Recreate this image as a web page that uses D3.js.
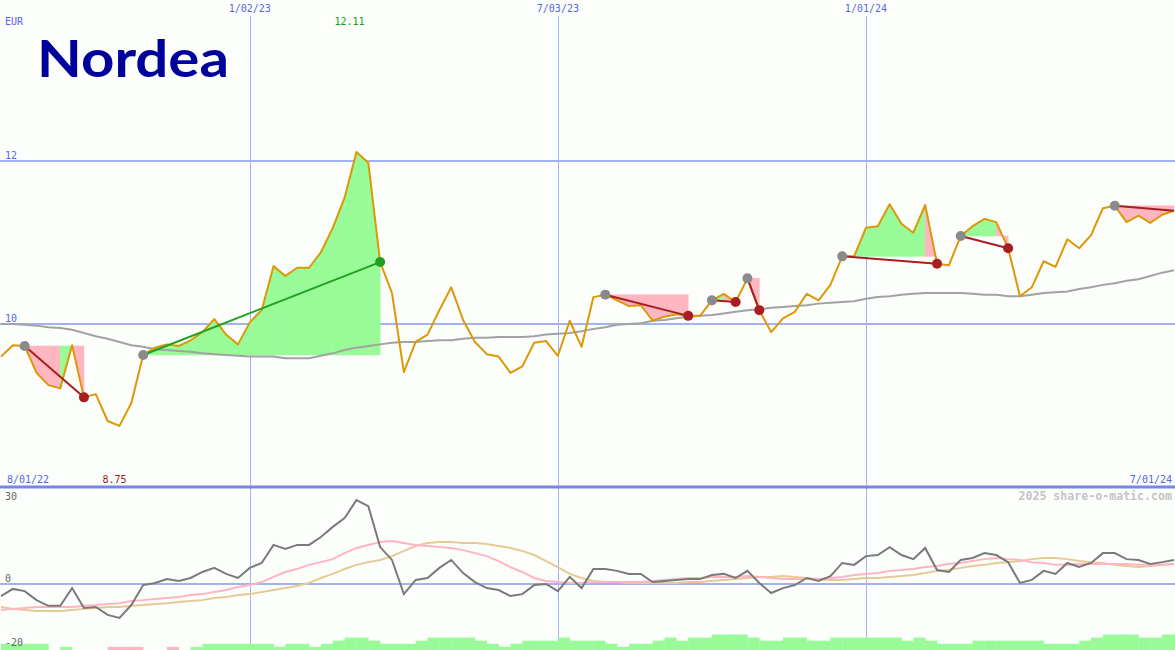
<!DOCTYPE html>
<html><head><meta charset="utf-8">
<script src="https://cdn.jsdelivr.net/npm/d3@7"></script>
<style>html,body{margin:0;padding:0;background:#fcfefc;overflow:hidden}</style>
</head><body><svg id="c" width="1175" height="650"></svg>
<script>
// ---- data (weekly points) ----
const price = [9.60,9.74,9.73,9.40,9.25,9.21,9.74,9.10,9.14,8.81,
8.75,9.03,9.62,9.71,9.75,9.73,9.80,9.90,10.06,9.87,
9.75,10.02,10.17,10.71,10.59,10.69,10.69,10.88,11.18,11.55,
12.11,11.98,10.76,10.38,9.41,9.78,9.87,10.17,10.45,10.05,
9.78,9.63,9.60,9.40,9.48,9.77,9.79,9.61,10.04,9.72,
10.33,10.36,10.29,10.22,10.23,10.04,10.09,10.12,10.10,10.10,
10.29,10.37,10.27,10.56,10.17,9.90,10.07,10.15,10.37,10.29,
10.48,10.83,10.83,11.18,11.20,11.47,11.23,11.12,11.46,10.74,
10.72,11.08,11.20,11.29,11.25,10.93,10.34,10.45,10.77,10.70,
11.04,10.93,11.09,11.42,11.45,11.25,11.33,11.24,11.34,11.39];

const movingAvg = [10.00,10.00,9.99,9.98,9.96,9.95,9.93,9.89,9.85,9.82,
9.78,9.74,9.72,9.69,9.68,9.67,9.66,9.64,9.63,9.62,
9.61,9.60,9.60,9.60,9.58,9.58,9.58,9.61,9.64,9.68,
9.71,9.73,9.75,9.77,9.78,9.78,9.79,9.80,9.80,9.82,
9.83,9.83,9.84,9.84,9.84,9.85,9.87,9.88,9.89,9.91,
9.94,9.96,9.99,10.00,10.01,10.04,10.05,10.07,10.09,10.10,
10.11,10.13,10.15,10.17,10.18,10.20,10.21,10.22,10.23,10.25,
10.26,10.27,10.28,10.31,10.33,10.34,10.36,10.37,10.38,10.38,
10.38,10.38,10.37,10.36,10.36,10.34,10.34,10.36,10.38,10.39,
10.40,10.43,10.45,10.48,10.50,10.53,10.55,10.59,10.63,10.66];

const oscillator = [-4.4,-1.8,-2.6,-5.9,-8.0,-8.0,-1.5,-8.8,-8.4,-11.3,
-12.4,-7.7,-0.4,0.4,1.8,1.1,2.2,4.4,5.9,3.7,
2.2,5.9,7.7,14.3,12.8,14.3,14.3,17.2,20.9,24.1,
30.7,28.5,13.5,8.8,-3.7,1.5,2.2,5.9,8.8,4.0,
0.7,-1.5,-2.2,-4.4,-3.7,-0.4,0.0,-2.6,2.6,-1.5,
5.5,5.5,4.8,3.7,3.7,0.7,1.1,1.5,1.8,1.8,
3.3,3.7,2.2,4.8,0.4,-3.3,-1.5,-0.4,2.2,1.1,
2.9,7.7,7.0,10.2,10.6,13.5,10.6,9.1,13.2,5.1,
4.4,8.8,9.5,11.3,10.6,8.0,0.4,1.5,4.8,3.7,
7.7,6.2,7.7,11.3,11.3,9.1,8.8,7.3,8.0,8.8];

const oscAvgPink = [-9.5,-9.1,-8.8,-8.4,-8.4,-8.4,-8.4,-8.0,-7.7,-7.3,
-7.0,-6.2,-5.9,-5.5,-5.1,-4.8,-4.0,-3.7,-2.9,-2.2,
-1.1,-0.4,0.7,2.6,4.4,5.5,7.0,8.0,9.1,11.3,
13.2,14.3,15.4,15.7,15.0,14.3,13.9,13.5,13.2,12.4,
11.3,10.2,8.4,6.2,4.4,2.2,1.1,0.7,0.4,0.4,
0.7,0.7,0.7,0.7,0.7,1.1,1.5,1.8,2.2,2.2,
2.6,2.6,2.6,2.9,2.6,2.2,1.8,1.8,1.8,1.8,
2.2,2.6,3.3,3.7,4.0,4.8,5.1,5.5,6.2,6.6,
7.3,7.7,8.4,9.1,9.5,9.1,8.8,8.0,7.7,7.0,
7.0,7.3,7.3,7.3,7.3,7.3,7.0,7.0,7.0,7.3];

const oscAvgTan = [-8.4,-9.1,-9.5,-9.9,-9.9,-9.9,-9.5,-9.1,-8.8,-8.4,
-8.4,-8.0,-7.7,-7.3,-7.0,-6.6,-6.2,-5.9,-5.1,-4.8,
-4.0,-3.7,-2.9,-2.2,-1.5,-0.7,0.4,2.2,3.7,5.5,
7.0,8.0,8.8,10.2,12.1,13.9,15.0,15.4,15.4,15.0,
15.0,14.6,13.9,13.2,12.1,10.6,8.4,6.2,3.7,2.2,
1.1,0.7,0.7,0.4,0.4,0.4,0.4,0.4,0.7,0.7,
1.1,1.5,1.8,2.2,2.6,2.6,2.9,2.6,2.2,1.8,
1.5,1.5,1.8,2.2,2.2,2.6,2.9,3.3,4.0,4.8,
5.1,5.9,6.6,7.0,7.7,8.0,8.4,9.1,9.5,9.5,
9.1,8.4,8.0,7.7,7.0,6.6,6.2,6.6,7.0,7.3];

const histLevels = [2,2,2,2,0,1,0,0,0,-1,
-1,-1,0,0,-1,0,1,2,2,2,
2,2,2,1,2,2,1,2,3,4,
4,3,2,2,2,3,4,4,4,4,
3,2,1,2,3,3,3,4,3,3,
3,2,1,2,2,3,4,3,4,4,
5,5,5,4,3,3,4,4,3,3,
4,4,4,4,4,4,3,4,3,2,
2,2,3,3,3,3,3,3,2,2,
2,3,4,5,5,5,4,4,5,5];

const signalStart = [2,12,51,60,63,71,81,94];
const signalEnd   = [7,32,58,62,64,79,85,99];

const dateGridIdx = [21,47,73];
const dateGridLabels = ["1/02/23","7/03/23","1/01/24"];
const priceTicks = [10,12];
const oscTicks = [30,0,-20];
const firstDate = "8/01/22", lastDate = "7/01/24";
const currency = "EUR";
const maxLabel = "12.11", minLabel = "8.75";

// ---- drawing ----
const W = 1175, H = 650;
const svg = d3.select('#c');
svg.append('rect').attr('width', W).attr('height', H).attr('fill', '#fcfefc');

const x = d3.scaleLinear().domain([0, price.length - 1]).range([1, 1174]);
const y = d3.scaleLinear().domain([10, 12]).range([324, 161]);
const y2 = d3.scaleLinear().domain([0, 30]).range([584, 502]);
const yb = d3.scaleLinear().domain([0, 5]).range([650, 634.5]);

const GRID = '#a3b3f2', BLUE_TXT = '#5566e6', MONO = "'DejaVu Sans Mono', monospace";
const GREEN_F = '#98fb98', PINK_F = '#ffb6c1';

// grid
const g0 = svg.append('g');
g0.selectAll('line.h').data(priceTicks).join('line')
  .attr('x1', 0).attr('x2', W).attr('y1', d => y(d)).attr('y2', d => y(d))
  .attr('stroke', GRID).attr('stroke-width', 2);
g0.selectAll('line.v').data(dateGridIdx).join('line')
  .attr('x1', d => Math.round(x(d)) + 0.5).attr('x2', d => Math.round(x(d)) + 0.5)
  .attr('y1', 16).attr('y2', H).attr('stroke', GRID).attr('stroke-width', 1);
g0.append('line').attr('x1', 0).attr('x2', W).attr('y1', y2(0)).attr('y2', y2(0))
  .attr('stroke', GRID).attr('stroke-width', 2);
g0.append('line').attr('x1', 0).attr('x2', W).attr('y1', y(8)).attr('y2', y(8))
  .attr('stroke', '#7486ea').attr('stroke-width', 3);

// signal fills
const fillG = svg.append('g');
signalStart.forEach((s, k) => {
  const e = signalEnd[k], lvl = price[s];
  for (let i = s; i < e; i++) {
    const pts = [[x(i), y(lvl)], [x(i), y(price[i])], [x(i + 1), y(price[i + 1])], [x(i + 1), y(lvl)]];
    const col = price[i + 1] >= lvl ? GREEN_F : PINK_F;
    fillG.append('path').attr('d', d3.line()(pts) + 'Z')
      .attr('fill', col).attr('stroke', col).attr('stroke-width', 0.6);
  }
});

// histogram bars (bottom)
svg.append('g').selectAll('rect').data(histLevels).join('rect')
  .attr('x', (d, i) => x(i)).attr('width', (d, i) => x(i + 1) - x(i) + 0.3)
  .attr('y', d => yb(Math.abs(d))).attr('height', d => yb(0) - yb(Math.abs(d)))
  .attr('fill', d => d >= 0 ? GREEN_F : PINK_F);

const lineP = d3.line().x((d, i) => x(i)).y(d => y(d));
const lineO = d3.line().x((d, i) => x(i)).y(d => y2(d));

// oscillator panel lines
svg.append('path').attr('d', lineO(oscAvgTan)).attr('fill', 'none').attr('stroke', '#e6ca96').attr('stroke-width', 2);
svg.append('path').attr('d', lineO(oscAvgPink)).attr('fill', 'none').attr('stroke', '#ffb4c4').attr('stroke-width', 2);
svg.append('path').attr('d', lineO(oscillator)).attr('fill', 'none').attr('stroke', '#7a7a7a').attr('stroke-width', 2);

// moving average + price
svg.append('path').attr('d', lineP(movingAvg)).attr('fill', 'none').attr('stroke', '#a2a2a2').attr('stroke-width', 2);
svg.append('path').attr('d', lineP(price)).attr('fill', 'none').attr('stroke', '#dc9806').attr('stroke-width', 2)
  .attr('stroke-linejoin', 'round');

// signal lines and dots
const sigG = svg.append('g');
signalStart.forEach((s, k) => {
  const e = signalEnd[k];
  const win = price[e] >= price[s];
  const col = win ? '#22a022' : '#a81e1e';
  sigG.append('line').attr('x1', x(s)).attr('y1', y(price[s])).attr('x2', x(e)).attr('y2', y(price[e]))
    .attr('stroke', col).attr('stroke-width', 2);
});
signalStart.forEach((s, k) => {
  const e = signalEnd[k];
  const win = price[e] >= price[s];
  sigG.append('circle').attr('cx', x(s)).attr('cy', y(price[s])).attr('r', 5).attr('fill', '#8a8a8a');
  if (e < price.length - 1) {
    sigG.append('circle').attr('cx', x(e)).attr('cy', y(price[e])).attr('r', 5)
      .attr('fill', win ? '#22a022' : '#a81e1e');
  }
});

// texts
const t = svg.append('g').attr('font-family', MONO).attr('font-size', 10);
t.append('text').attr('x', 5).attr('y', 25).attr('fill', BLUE_TXT).text(currency);
t.selectAll('text.d').data(dateGridIdx).join('text')
  .attr('x', d => x(d)).attr('y', 12).attr('text-anchor', 'middle').attr('fill', BLUE_TXT)
  .text((d, i) => dateGridLabels[i]);
t.selectAll('text.p').data(priceTicks).join('text')
  .attr('x', 5).attr('y', d => y(d) - 2).attr('fill', BLUE_TXT).text(d => d);
const maxIdx = price.indexOf(d3.max(price)), minIdx = price.indexOf(d3.min(price));
t.append('text').attr('x', x(maxIdx) - 7).attr('y', 25).attr('text-anchor', 'middle').attr('fill', '#1a9a1a').text(maxLabel);
t.append('text').attr('x', x(minIdx) - 5).attr('y', 483).attr('text-anchor', 'middle').attr('fill', '#9a1a1a').text(minLabel);
t.append('text').attr('x', 7).attr('y', 483).attr('fill', BLUE_TXT).text(firstDate);
t.append('text').attr('x', 1172).attr('y', 483).attr('text-anchor', 'end').attr('fill', BLUE_TXT).text(lastDate);
t.selectAll('text.o').data(oscTicks).join('text')
  .attr('x', 5).attr('y', d => d === -20 ? 646 : y2(d) - 2).attr('fill', '#666').text(d => d);
t.append('text').attr('x', 1172).attr('y', 500).attr('text-anchor', 'end').attr('fill', '#c4c4c4')
  .attr('font-size', 11.6).attr('font-weight', 'bold').text('2025 share-o-matic.com');

// logo
svg.append('text').attr('x', 37).attr('y', 77).attr('font-family', 'Lato, sans-serif').attr('font-weight', 700)
  .attr('font-size', 52).attr('fill', '#00009c').attr('textLength', 192).attr('lengthAdjust', 'spacingAndGlyphs')
  .text('Nordea');
</script></body></html>
